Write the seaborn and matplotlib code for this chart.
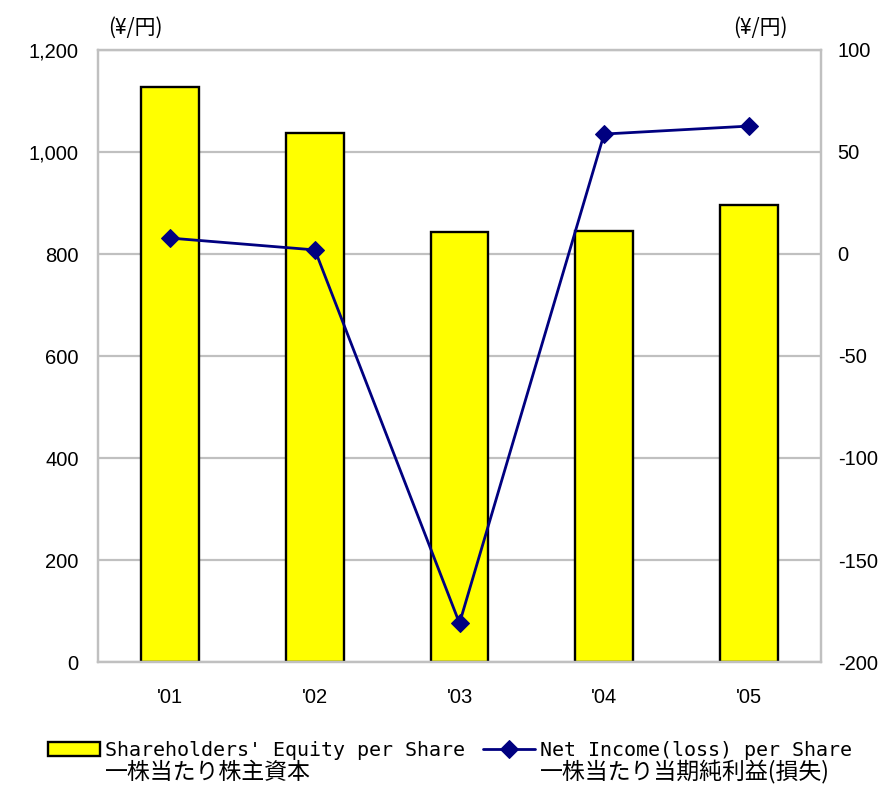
import numpy as np
import matplotlib
matplotlib.use("Agg")
import matplotlib.pyplot as plt
import seaborn as sns

# data
years = ["'01", "'02", "'03", "'04", "'05"]
equity = [1127, 1037, 843, 845, 896]          # left axis, yen
net_income = [7.8, 2.0, -181.0, 58.8, 62.7]   # right axis, yen
left_ticks = [0, 200, 400, 600, 800, 1000, 1200]
left_labels = ["0", "200", "400", "600", "800", "1,000", "1,200"]
right_ticks = [-200, -150, -100, -50, 0, 50, 100]
unit_label = "(¥/円)"
bar_label = ["Shareholders' Equity per Share", "一株当たり株主資本"]
line_label = ["Net Income(loss) per Share", "一株当たり当期純利益(損失)"]

sns.set_style("white")
plt.rcParams['font.family'] = ['Liberation Sans', 'Noto Sans CJK JP']
plt.rcParams['axes.unicode_minus'] = False
plt.rcParams['text.color'] = 'black'
plt.rcParams['xtick.color'] = 'black'
plt.rcParams['ytick.color'] = 'black'

fig = plt.figure(figsize=(8.9, 7.86), dpi=100)
ax = fig.add_axes([98/890, 124/786, 723/890, 612/786])
ax2 = ax.twinx()

grey = "#c0c0c0"

#bars on left axis
sns.barplot(x=years, y=equity, color="#ffff00", saturation=1, edgecolor="black",
            linewidth=1.7, width=0.4, ax=ax, label=bar_label[0], zorder=2)
ax.set_ylim(0, 1200)
ax.set_yticks(left_ticks)
ax.set_yticklabels(left_labels)
ax.yaxis.grid(True, color=grey, linewidth=1.6, zorder=0)
ax.set_axisbelow(True)
ax.set_xlim(-0.5, len(years) - 0.5)

#line on right axis
sns.lineplot(x=years, y=net_income, color="#000080", linewidth=2, marker="D",
             markersize=9, markeredgecolor="#000080", ax=ax2, label=line_label[0],
             legend=False)
ax2.set_ylim(-200, 100)
ax2.set_yticks(right_ticks)
ax2.set_xlim(-0.5, len(years) - 0.5)

for a in (ax, ax2):
    for s in a.spines.values():
        s.set_color(grey)
        s.set_linewidth(1.6)
    a.set_xlabel("")
    a.set_ylabel("")

ax.tick_params(axis="y", length=0, pad=14, labelsize=14.5)
ax2.tick_params(axis="y", length=0, pad=12, labelsize=14.5)
ax.tick_params(axis="x", which="major", length=0, pad=19, labelsize=14.5)
ax.set_xticks(np.arange(len(years) - 1) + 0.5, minor=True)
ax.tick_params(axis="x", which="minor", direction="in", length=6, width=1.6, color=grey)

#unit labels above each axis
fig.text(135/890, 1 - 28/786, unit_label, ha="center", va="center", fontsize=15,
         family=["Noto Sans CJK JP"])
fig.text(760/890, 1 - 28/786, unit_label, ha="center", va="center", fontsize=15,
         family=["Noto Sans CJK JP"])

# legend below, english line from legend, japanese line added underneath
h1, l1 = ax.get_legend_handles_labels()
h2, l2 = ax2.get_legend_handles_labels()
if ax.get_legend() is not None:
    ax.get_legend().remove()
leg = fig.legend(h1 + h2, l1 + l2, loc="center left", bbox_to_anchor=(48/890, 36/786),
                 ncol=2, frameon=False, borderpad=0, borderaxespad=0, handlelength=2.6,
                 handletextpad=0.25, columnspacing=0.9,
                 prop={"family": ["DejaVu Sans Mono"], "size": 14.4})

fig.canvas.draw()
inv = fig.transFigure.inverted()
for t, jp in zip(leg.get_texts(), [bar_label[1], line_label[1]]):
    bb = t.get_window_extent()
    x0, _ = inv.transform((bb.x0, bb.y0))
    fig.text(x0, 1 - 779/786, jp, ha="left", va="baseline", fontsize=16.5,
             family=["Noto Sans CJK JP"])

fig.savefig("out.png", dpi=100)
